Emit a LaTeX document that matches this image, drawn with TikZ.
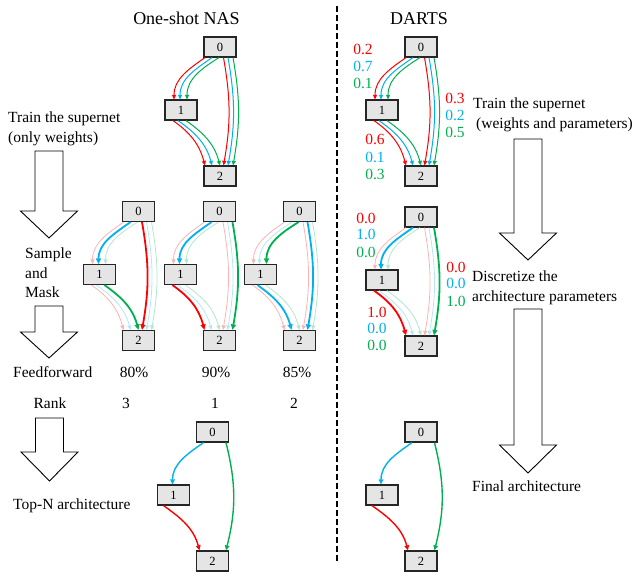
\documentclass[tikz,border=0pt]{standalone}
\usepackage{fontspec}
\setmainfont{Liberation Serif}
\usetikzlibrary{arrows.meta}

\definecolor{cr}{RGB}{255,0,0}
\definecolor{cb}{RGB}{0,176,240}
\definecolor{cg}{RGB}{0,176,80}

\tikzset{
  nbox/.style={draw=black!85, line width=1.2pt, fill=black!10,
    minimum width=32pt, minimum height=20pt, inner sep=0pt,
    font=\fontsize{12.5}{14}\selectfont},
  lab/.style={font=\fontsize{15.5}{18}\selectfont, inner sep=0pt},
  hd/.style={font=\fontsize{18}{20}\selectfont, inner sep=0pt},
  thinE/.style={line width=1pt, -{Triangle[length=4.5pt,width=4pt]}},
  boldE/.style={line width=1.8pt, -{Triangle[length=5.5pt,width=5pt]}},
  paleE/.style={line width=0.8pt, -{Triangle[length=4.5pt,width=4pt]}},
  midE/.style={line width=1.4pt, -{Triangle[length=5pt,width=4.5pt]}},
  rn/.style={thinE, color=cr}, bn/.style={thinE, color=cb}, gn/.style={thinE, color=cg},
  rk/.style={boldE, color=cr}, bk/.style={boldE, color=cb}, gk/.style={boldE, color=cg},
  rl/.style={paleE, color=cr!30}, bl/.style={paleE, color=cb!30}, gl/.style={paleE, color=cg!30},
  bigarr/.style={draw=black, line width=0.9pt, fill=white, line join=miter},
  sepline/.style={line width=1.2pt, dash pattern=on 6pt off 3pt},
}

% three cell nodes 0,1,2 with node 0 centred at (x, -y)
\newcommand\cellnodes[3]{%
  \node[nbox] (#1a) at (#2,-#3) {0};
  \node[nbox] (#1b) at (#2-39,-#3-63) {1};
  \node[nbox] (#1c) at (#2,-#3-129) {2};}
% edge bundles: red, blue, green styles
\newcommand\edgesAB[4]{%
  \draw[#2] ([xshift=-15pt]#1a.south) to[out=215,in=90] ([xshift=-7pt]#1b.north);
  \draw[#3] ([xshift=-8pt]#1a.south) to[out=215,in=90] ([xshift=-1pt]#1b.north);
  \draw[#4] ([xshift=-1pt]#1a.south) to[out=212,in=90] ([xshift=6pt]#1b.north);}
\newcommand\edgesAC[4]{%
  \draw[#2] ([xshift=3.5pt]#1a.south) to[out=-80,in=80] ([xshift=3.5pt]#1c.north);
  \draw[#3] ([xshift=8pt]#1a.south) to[out=-80,in=80] ([xshift=8pt]#1c.north);
  \draw[#4] ([xshift=13pt]#1a.south) to[out=-80,in=80] ([xshift=13pt]#1c.north);}
\newcommand\edgesBC[4]{%
  \draw[#2] ([xshift=-8pt]#1b.south) to[out=-35,in=105] ([xshift=-15pt]#1c.north);
  \draw[#3] ([xshift=-3pt]#1b.south) to[out=-35,in=105] ([xshift=-8pt]#1c.north);
  \draw[#4] ([xshift=5pt]#1b.south) to[out=-35,in=105] ([xshift=0pt]#1c.north);}
% hollow block arrow: x centre, shaft top, head base, tip
\newcommand\bigarrow[4]{%
  \draw[bigarr] (#1-14,-#2) -- (#1+14,-#2) -- (#1+14,-#3) -- (#1+28.5,-#3)
    -- (#1,-#4) -- (#1-28.5,-#3) -- (#1-14,-#3) -- cycle;}

\begin{document}
\begin{tikzpicture}[x=1pt,y=1pt]
\useasboundingbox (0,0) rectangle (643,-571);

% headers and separator
\node[hd, anchor=base] (h1) at (186.5,-24) {One-shot NAS};
\node[hd, anchor=base] (h2) at (419,-24) {DARTS};
\draw[sepline] (337,-6) -- (337,-563);

% left column labels and arrows
\node[lab, anchor=base west] (t1) at (8,-122.5) {Train the supernet};
\node[lab, anchor=base west] (t2) at (8,-142.5) {(only weights)};
\bigarrow{49}{151}{211}{238}
\node[lab, anchor=base west] (s1) at (25,-258) {Sample};
\node[lab, anchor=base west] (s2) at (25,-278) {and};
\node[lab, anchor=base west] (s3) at (25,-297) {Mask};
\bigarrow{49}{306}{332}{358}
\node[lab, anchor=base west] (ff) at (13,-377) {Feedforward};
\node[lab, anchor=base] (rk) at (50,-408) {Rank};
\bigarrow{49.5}{418}{452}{481}
\node[lab, anchor=base west] (tn) at (13,-509) {Top-N architecture};

\node[lab, anchor=base] (p1) at (134,-377) {80\%};
\node[lab, anchor=base] (p2) at (216,-377) {90\%};
\node[lab, anchor=base] (p3) at (297,-377) {85\%};
\node[lab, anchor=base] (r1) at (126,-408) {3};
\node[lab, anchor=base] (r2) at (215,-408) {1};
\node[lab, anchor=base] (r3) at (294,-408) {2};

% right column labels and arrows
\node[lab, anchor=base west] (u1) at (473,-108) {Train the supernet};
\node[lab, anchor=base west] (u2) at (476,-128) {(weights and parameters)};
\bigarrow{528}{139}{233}{260}
\node[lab, anchor=base west] (u3) at (472,-281) {Discretize the};
\node[lab, anchor=base west] (u4) at (472,-301) {architecture parameters};
\bigarrow{528}{309}{445}{473}
\node[lab, anchor=base west] (u5) at (472,-491) {Final architecture};

% supernet (one-shot)
\cellnodes{A}{220}{47}
\edgesAB{A}{rn}{bn}{gn}
\edgesAC{A}{rn}{bn}{gn}
\edgesBC{A}{rn}{bn}{gn}

% supernet (DARTS)
\cellnodes{B}{421}{47}
\edgesAB{B}{rn}{bn}{gn}
\edgesAC{B}{rn}{bn}{gn}
\edgesBC{B}{rn}{bn}{gn}
\node[lab, anchor=base, text=cr] (b1) at (363,-54) {0.2};
\node[lab, anchor=base, text=cb] (b2) at (363,-71) {0.7};
\node[lab, anchor=base, text=cg] (b3) at (363,-88) {0.1};
\node[lab, anchor=base, text=cr] (b4) at (455,-103) {0.3};
\node[lab, anchor=base, text=cb] (b5) at (455,-120) {0.2};
\node[lab, anchor=base, text=cg] (b6) at (455,-137) {0.5};
\node[lab, anchor=base, text=cr] (b7) at (375,-144) {0.6};
\node[lab, anchor=base, text=cb] (b8) at (375,-162) {0.1};
\node[lab, anchor=base, text=cg] (b9) at (375,-179) {0.3};

% sampled sub-networks
\cellnodes{C}{138.5}{211.5}
\edgesAB{C}{rl}{bk}{gl}
\edgesAC{C}{rk}{bl}{gl}
\edgesBC{C}{rl}{bl}{gk}

\cellnodes{D}{219.5}{211.5}
\edgesAB{D}{rl}{bk}{gl}
\edgesAC{D}{rl}{bl}{gk}
\edgesBC{D}{rk}{bl}{gl}

\cellnodes{E}{299.5}{211.5}
\edgesAB{E}{rl}{bl}{gk}
\edgesAC{E}{rl}{bk}{gl}
\edgesBC{E}{rl}{bk}{gl}

% discretized DARTS cell
\cellnodes{F}{421}{217}
\edgesAB{F}{rl}{bk}{gl}
\edgesAC{F}{rl}{bl}{gk}
\edgesBC{F}{rk}{bl}{gl}
\node[lab, anchor=base, text=cr] (f1) at (366,-223) {0.0};
\node[lab, anchor=base, text=cb] (f2) at (366,-239) {1.0};
\node[lab, anchor=base, text=cg] (f3) at (366,-257) {0.0};
\node[lab, anchor=base, text=cr] (f4) at (456,-272) {0.0};
\node[lab, anchor=base, text=cb] (f5) at (456,-288) {0.0};
\node[lab, anchor=base, text=cg] (f6) at (456,-306) {1.0};
\node[lab, anchor=base, text=cr] (f7) at (377,-317) {1.0};
\node[lab, anchor=base, text=cb] (f8) at (377,-333) {0.0};
\node[lab, anchor=base, text=cg] (f9) at (377,-350) {0.0};

% final architectures
\cellnodes{G}{212.5}{432}
\draw[midE, color=cb] ([xshift=-9pt]Ga.south) to[out=215,in=90] ([xshift=-1pt]Gb.north);
\draw[midE, color=cg] ([xshift=13.5pt]Ga.south) to[out=-76,in=76] ([xshift=13.5pt]Gc.north);
\draw[midE, color=cr] ([xshift=-10pt]Gb.south) to[out=-35,in=105] ([xshift=-13pt]Gc.north);

\cellnodes{H}{421}{432}
\draw[midE, color=cb] ([xshift=-9pt]Ha.south) to[out=215,in=90] ([xshift=-1pt]Hb.north);
\draw[midE, color=cg] ([xshift=13.5pt]Ha.south) to[out=-76,in=76] ([xshift=13.5pt]Hc.north);
\draw[midE, color=cr] ([xshift=-10pt]Hb.south) to[out=-35,in=105] ([xshift=-13pt]Hc.north);
\end{tikzpicture}
\end{document}
